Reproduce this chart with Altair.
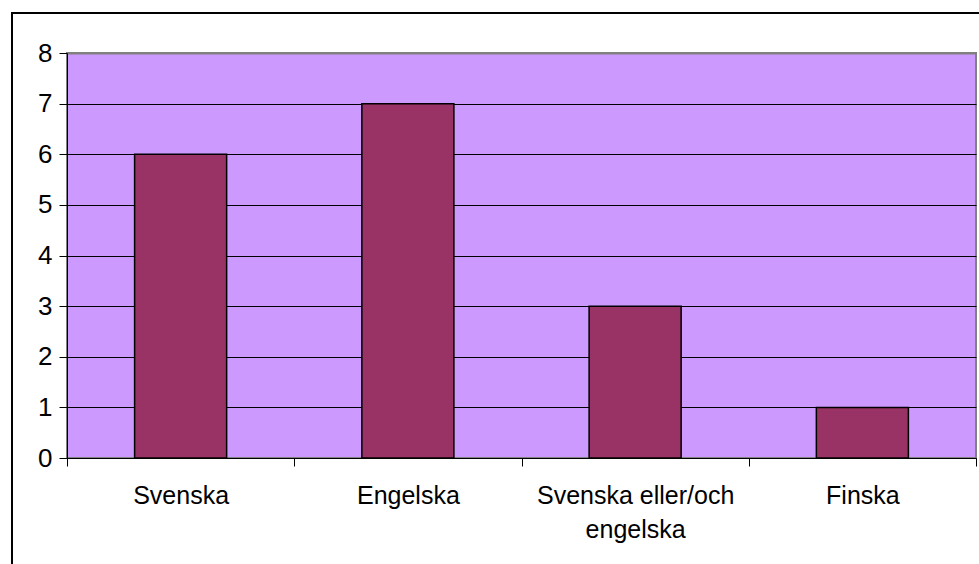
import altair as alt
import pandas as pd

# Language categories and number of answers
categories = ["Svenska", "Engelska", "Svenska eller/och engelska", "Finska"]
counts = [6, 7, 3, 1]

df = pd.DataFrame({"sprak": categories, "antal": counts})

FONT = "Liberation Sans"

x_enc = alt.X(
    "sprak:N",
    sort=categories,
    title=None,
    scale=alt.Scale(paddingInner=0, paddingOuter=0),
    axis=alt.Axis(
        labelAngle=0,
        tickBand="extent",
        tickSize=8,
        tickColor="black",
        domainColor="black",
        labelFont=FONT,
        labelFontSize=25,
        labelColor="black",
        labelPadding=17,
        labelLineHeight=34,
        labelLimit=400,
        labelExpr="datum.label == 'Svenska eller/och engelska' ? ['Svenska eller/och', 'engelska'] : datum.label",
        grid=False,
    ),
)

y_enc = alt.Y(
    "antal:Q",
    title=None,
    scale=alt.Scale(domain=[0, 8], nice=False),
    axis=alt.Axis(
        values=list(range(0, 9)),
        format="d",
        tickSize=8,
        tickColor="black",
        domainColor="black",
        labelFont=FONT,
        labelFontSize=26,
        labelColor="black",
        labelPadding=7,
        grid=True,
        gridColor={"condition": {"test": "datum.value >= 8", "value": "#808080"}, "value": "black"},
        gridWidth={"condition": {"test": "datum.value >= 8", "value": 2}, "value": 1},
        gridOpacity=1,
    ),
)

bars = alt.Chart(df).mark_bar(
    color="#993366",
    stroke="black",
    strokeWidth=1.5,
    width=alt.RelativeBandSize(0.405),
).encode(x=x_enc, y=y_enc)

# frame around the whole chart
frame = alt.Chart(df).mark_rect(
    fill=None, stroke="black", strokeWidth=2
).encode(
    x=alt.value(-55), x2=alt.value(1000), y=alt.value(-40), y2=alt.value(600)
)

chart = alt.layer(bars, frame).properties(
    width=909,
    height=405,
    padding={"left": 67, "top": 53, "right": 3, "bottom": 106},
    autosize=alt.AutoSizeParams(type="none"),
    background="white",
).configure_view(
    fill="#CC99FF",
    stroke="#808080",
    strokeWidth=2,
)

chart.save("out.html", embed_options={"renderer": "svg", "actions": False})
